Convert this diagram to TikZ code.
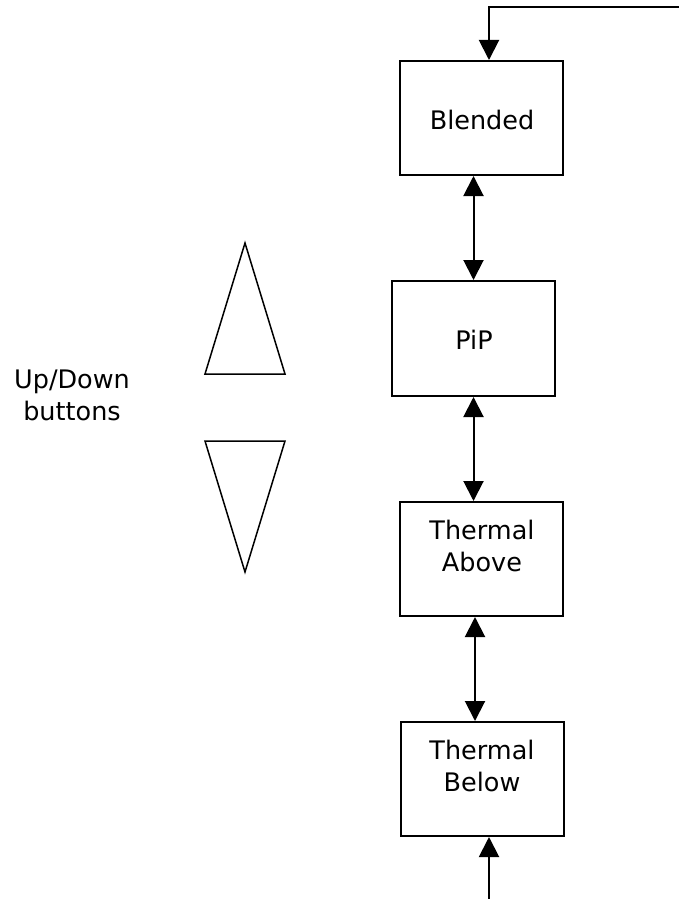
\documentclass[tikz,border=0pt]{standalone}
\usepackage{fontspec}
\setmainfont{DejaVu Sans}
\usetikzlibrary{arrows.meta,calc}
\begin{document}
\begin{tikzpicture}[x=1pt,y=-1pt,
  box/.style={draw,line width=2pt,minimum width=163pt,minimum height=114pt,inner sep=0pt},
  txt/.style={font=\fontsize{25.5}{32}\selectfont,align=center,inner sep=0pt},
  arr/.style={line width=2pt,-{Triangle[length=20pt,width=20pt]}},
  dbl/.style={line width=2pt,{Triangle[length=20pt,width=20pt]}-{Triangle[length=20pt,width=20pt]}},
  tri/.style={line width=1.5pt,line join=miter}]
\useasboundingbox (0,0) rectangle (679,899);
\node[box] (bl) at (481.5,118) {};
\node[txt] (blt) at (482,120) {Blended};
\node[box,minimum height=115pt] (pip) at (473.5,338.5) {};
\node[txt] (pipt) at (474,340) {PiP};
\node[box] (ta) at (481.5,559) {};
\node[txt] (tat) at (482,546) {Thermal\\Above};
\node[box] (tb) at (482,779) {};
\node[txt] (tbt) at (482,766) {Thermal\\Below};
\node[txt] (ud) at (72,395) {Up/Down\\buttons};
% connectors
\coordinate (topright) at (679,7.5);
\coordinate (bot) at (489,899);
\draw[arr,line join=miter] (topright) -| ([xshift=7.5pt]bl.north);
\draw[dbl] (bl.south -| pip.north) -- (pip.north);
\draw[dbl] (pip.south) -- (pip.south |- ta.north);
\draw[dbl] ([xshift=-6.5pt]ta.south) -- ([xshift=-6.5pt]ta.south |- tb.north);
\draw[arr] (bot) -- (bot |- tb.south);
% buttons
\draw[tri] (245,243) -- (285,374) -- (205,374) -- cycle;
\draw[tri] (205,441) -- (285,441) -- (245,572) -- cycle;
\end{tikzpicture}
\end{document}
